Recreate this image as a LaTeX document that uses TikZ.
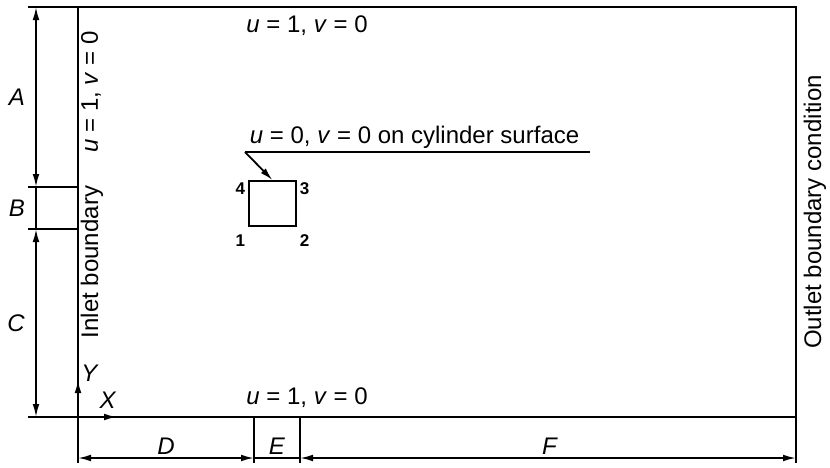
\documentclass[tikz,border=0pt]{standalone}
\usepackage{fontspec}
\setmainfont{Liberation Sans}
\usetikzlibrary{arrows.meta,positioning,calc}

\begin{document}
\begin{tikzpicture}[x=0.5pt,y=-0.5pt,line width=0.9pt,
    lbl/.style={font=\fontsize{12}{14}\selectfont},
    num/.style={font=\fontsize{8.5}{10}\selectfont\bfseries,inner sep=1pt},
    dimarr/.style={{Latex[length=6.5pt,width=3.4pt]}-{Latex[length=6.5pt,width=3.4pt]}},
    axarr/.style={-{Latex[length=6.5pt,width=3.4pt]}}]
\useasboundingbox (0,0) rectangle (830,467);

% domain
\coordinate (tl) at (78,7);
\coordinate (tr) at (796,7);
\coordinate (bl) at (78,417);
\coordinate (br) at (796,417);
\draw (28,7) -- (tr) -- (796,463);
\draw (28,417) -- (br);
\draw (tl) -- (78,463);

% boundary conditions
\node[lbl] (top) at (307,26) {\textit{u} = 1, \textit{v} = 0};
\node[lbl] (bot) at (307,398) {\textit{u} = 1, \textit{v} = 0};
\node[lbl,rotate=90] (inl) at (91,92) {\textit{u} = 1, \textit{v} = 0};
\node[lbl,rotate=90] (inlet) at (92,262) {Inlet boundary};
\node[lbl,rotate=90] (outlet) at (815,212) {Outlet boundary condition};

% left dimensions
\draw (28,187) -- (78,187);
\draw (28,229) -- (78,229);
\draw[dimarr] (36,7) -- (36,187);
\draw (36,187) -- (36,229);
\draw[dimarr] (36,229) -- (36,417);
\node[lbl] (A) at (17,97) {\textit{A}};
\node[lbl] (B) at (17,208) {\textit{B}};
\node[lbl] (C) at (16,323) {\textit{C}};

% bottom dimensions
\draw (254,417) -- (254,463);
\draw (300,417) -- (300,463);
\draw[dimarr] (78,458) -- (254,458);
\draw (254,458) -- (300,458);
\draw[dimarr] (300,458) -- (796,458);
\node[lbl,anchor=base] (D) at (166,454) {\textit{D}};
\node[lbl,anchor=base] (E) at (277,454) {\textit{E}};
\node[lbl,anchor=base] (F) at (550,454) {\textit{F}};

% axes
\draw[axarr] (bl) -- (78,380) coordinate (ytip);
\draw[axarr] (bl) -- (117,417) coordinate (xtip);
\node[lbl] (Y) at (90,373) {\textit{Y}};
\node[lbl] (X) at (108,400) {\textit{X}};

% cylinder
\node[draw,minimum width=23.5pt,minimum height=22.5pt,inner sep=0pt] (cyl) at (272.5,203.5) {};
\node[num,anchor=north east] (c4) at (cyl.north west) {4};
\node[num,anchor=north west] (c3) at (cyl.north east) {3};
\node[num,anchor=north east] (c1) at ($(cyl.south west)+(0,5)$) {1};
\node[num,anchor=north west] (c2) at ($(cyl.south east)+(0,5)$) {2};

% wall condition
\node[lbl,anchor=base west,inner sep=0pt] (wall) at (249,143) {\textit{u} = 0, \textit{v} = 0 on cylinder surface};
\coordinate (ul) at (245,152);
\draw (ul) -- ($(ul -| wall.east)+(10,0)$);
\draw[axarr] (ul) -- (cyl.north);
\end{tikzpicture}
\end{document}
